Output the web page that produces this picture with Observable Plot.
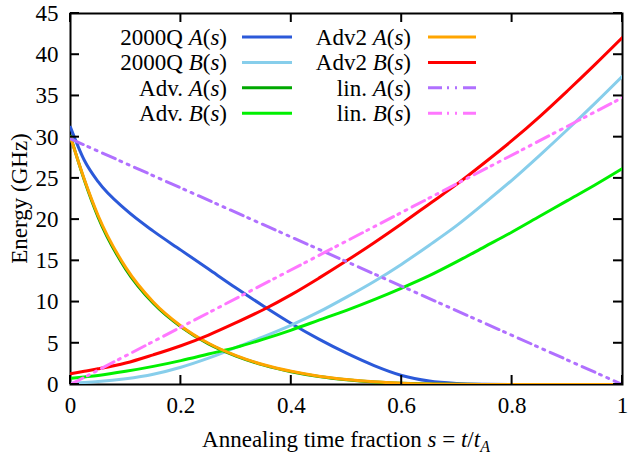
<!DOCTYPE html>
<html>
<head>
<meta charset="utf-8">
<script src="https://cdn.jsdelivr.net/npm/d3@7"></script>
<script src="https://cdn.jsdelivr.net/npm/@observablehq/plot@0.6"></script>
<style>
  body { margin: 0; background: #fff; }
</style>
</head>
<body>
<div id="chart"></div>
<script>
const sGrid = [0, 0.025, 0.05, 0.1, 0.15, 0.2, 0.25, 0.3, 0.35, 0.4, 0.45, 0.5, 0.55, 0.6, 0.65, 0.7, 0.75, 0.8, 0.85, 0.9, 0.95, 1];
const a2000Q = [31.2, 27.2, 24.6, 21.2, 18.6, 16.3, 14.0, 11.7, 9.5, 7.4, 5.5, 3.8, 2.3, 1.1, 0.42, 0.13, 0.03, 0, 0, 0, 0, 0];
const b2000Q = [0.15, 0.24, 0.35, 0.7, 1.25, 2.1, 3.2, 4.5, 5.8, 7.2, 8.8, 10.6, 12.5, 14.6, 16.9, 19.3, 22.0, 24.8, 27.8, 30.9, 34.1, 37.4];
const aAdv = [30.1, 24.8, 20.3, 14.0, 9.85, 7.0, 4.92, 3.45, 2.35, 1.55, 0.97, 0.57, 0.3, 0.15, 0.06, 0.02, 0, 0, 0, 0, 0, 0];
const bAdv = [0.75, 0.92, 1.1, 1.6, 2.2, 2.9, 3.7, 4.5, 5.5, 6.6, 7.8, 9.0, 10.3, 11.7, 13.2, 14.9, 16.7, 18.5, 20.4, 22.3, 24.2, 26.2];
const aAdv2 = [30.0, 24.9, 20.5, 14.2, 10.0, 7.1, 5.0, 3.5, 2.4, 1.6, 1.0, 0.6, 0.32, 0.16, 0.07, 0.03, 0.01, 0, 0, 0, 0, 0];
const bAdv2 = [1.3, 1.6, 1.9, 2.6, 3.6, 4.7, 6.0, 7.5, 9.1, 10.9, 12.9, 15.0, 17.2, 19.5, 21.9, 24.3, 26.9, 29.6, 32.5, 35.6, 38.8, 42.1];
// The linear schedules are straight lines between their end points.
const sLin = [0, 1];
const aLin = [29.8, 0];
const bLin = [0, 34.8];

const xTicks = [0, 0.2, 0.4, 0.6, 0.8, 1];
const yTicks = [0, 5, 10, 15, 20, 25, 30, 35, 40, 45];

const names = ["2000Q", "2000Q", "Adv.", "Adv.", "Adv2", "Adv2", "lin.", "lin."];
const fns = ["A", "B", "A", "B", "A", "B", "A", "B"];
const xs = [sGrid, sGrid, sGrid, sGrid, sGrid, sGrid, sLin, sLin];
const ys = [a2000Q, b2000Q, aAdv, bAdv, aAdv2, bAdv2, aLin, bLin];

const colors = ["#2b59d9", "#87ceeb", "#00a800", "#00f000", "#ffa500", "#ff0000", "#b070ff", "#ff77ff"];
const dashLin = "14,5,2,6,2,6";
const dashes = [null, null, null, null, null, null, dashLin, dashLin];
const serif = '"Liberation Serif", "DejaVu Serif", "Times New Roman", Tinos, "Nimbus Roman", "FreeSerif", "Noto Serif", serif';

const lineMarks = ys.map((vals, i) => {
  const rows = vals.map((e, j) => ({ s: xs[i][j], e }));
  return Plot.lineY(rows, {
    x: "s",
    y: "e",
    stroke: colors[i],
    strokeWidth: 3,
    strokeDasharray: dashes[i] || undefined,
    curve: "monotone-x",
    clip: true,
  });
});

const fig = Plot.plot({
  width: 632,
  height: 467,
  marginLeft: 70,
  marginRight: 10,
  marginTop: 13,
  marginBottom: 83,
  style: { fontFamily: serif, fontSize: "23px", color: "#000", background: "#fff" },
  x: { domain: [0, 1] },
  y: { domain: [0, 45] },
  marks: [
    Plot.frame({ stroke: "#000", strokeWidth: 2 }),
    Plot.axisX(xTicks, { tickSize: 0, tickPadding: 12, label: null, tickFormat: (d) => String(d), fontSize: 23 }),
    Plot.axisY(yTicks, { tickSize: 0, tickPadding: 12, label: null, fontSize: 23 }),
    ...lineMarks,
  ],
});

document.getElementById("chart").appendChild(fig);

// Inward ticks on all four sides, gnuplot style, placed through Plot's scales.
const svg = d3.select(fig);
const sx = fig.scale("x");
const sy = fig.scale("y");
const y0 = sy.apply(0), y1 = sy.apply(45), x0 = sx.apply(0), x1 = sx.apply(1);
const tickLen = 9;
const tg = svg.append("g").attr("stroke", "#000").attr("stroke-width", 2);
for (const v of xTicks) {
  const px = sx.apply(v);
  tg.append("line").attr("x1", px).attr("x2", px).attr("y1", y0).attr("y2", y0 - tickLen);
  tg.append("line").attr("x1", px).attr("x2", px).attr("y1", y1).attr("y2", y1 + tickLen);
}
for (const v of yTicks) {
  const py = sy.apply(v);
  tg.append("line").attr("y1", py).attr("y2", py).attr("x1", x0).attr("x2", x0 + tickLen);
  tg.append("line").attr("y1", py).attr("y2", py).attr("x1", x1).attr("x2", x1 - tickLen);
}

// Text with italic math pieces: parts are [string, italic].
function mathText(g, parts) {
  for (const [t, it] of parts) {
    g.append("tspan").attr("font-style", it ? "italic" : "normal").text(t);
  }
}

// Legend: two columns of four rows, label right-aligned then a line sample.
const legendCols = [{ textRight: 227, lineX1: 242, lineX2: 292 }, { textRight: 411, lineX1: 428, lineX2: 476 }];
const rowY0 = 37, rowStep = 25.4;
const lg = svg.append("g").attr("font-size", 23).attr("font-family", serif).attr("fill", "#000");
names.forEach((name, i) => {
  const col = legendCols[Math.floor(i / 4)];
  const cy = rowY0 + (i % 4) * rowStep;
  const t = lg.append("text").attr("x", col.textRight).attr("y", cy + 8).attr("text-anchor", "end");
  mathText(t, [[name + " ", false], [fns[i], true], ["(", false], ["s", true], [")", false]]);
  lg.append("line")
    .attr("x1", col.lineX1).attr("x2", col.lineX2).attr("y1", cy).attr("y2", cy)
    .attr("stroke", colors[i]).attr("stroke-width", 3)
    .attr("stroke-dasharray", dashes[i]);
});

// Axis titles.
const xl = svg.append("text").attr("x", (x0 + x1) / 2).attr("y", 447)
  .attr("text-anchor", "middle").attr("font-size", 23).attr("font-family", serif).attr("fill", "#000");
mathText(xl, [["Annealing time fraction ", false], ["s", true], [" = ", false], ["t", true], ["/", false], ["t", true]]);
xl.append("tspan").attr("font-style", "italic").attr("font-size", 16).attr("dy", 5).text("A");

svg.append("text")
  .attr("transform", `translate(27,${(y0 + y1) / 2}) rotate(-90)`)
  .attr("text-anchor", "middle").attr("font-size", 23).attr("font-family", serif).attr("fill", "#000")
  .text("Energy (GHz)");
</script>
</body>
</html>
